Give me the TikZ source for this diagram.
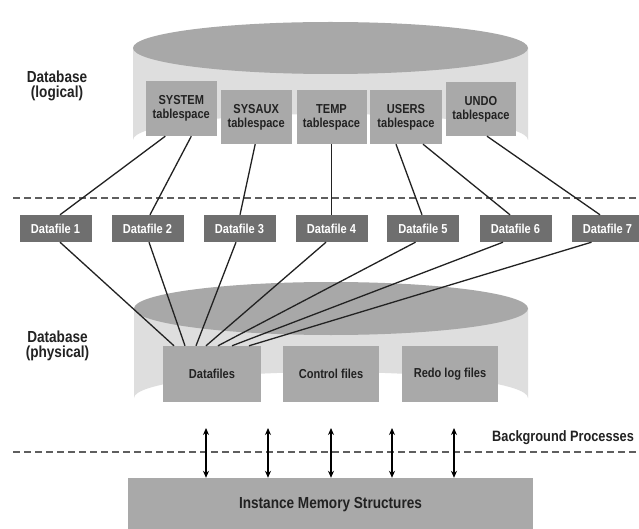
\documentclass[tikz,border=0pt]{standalone}
\usepackage{fontspec}
\setmainfont{Liberation Sans}[FakeStretch=0.85]
\usetikzlibrary{arrows.meta}
\definecolor{bodygray}{HTML}{DEDEDE}
\definecolor{topgray}{HTML}{A8A8A8}
\definecolor{boxgray}{HTML}{A9A9A9}
\definecolor{filegray}{HTML}{6F6F6F}
\definecolor{ink}{HTML}{222222}
\definecolor{dashgray}{HTML}{5E5E5E}
\tikzset{
  tsbox/.style={fill=boxgray, inner sep=0pt, minimum width=71pt, minimum height=54pt,
    align=center, font=\fontsize{13}{14}\selectfont\bfseries, text=ink},
  filebox/.style={fill=filegray, inner sep=0pt, minimum width=72pt, minimum height=27pt,
    font=\fontsize{13}{14}\selectfont\bfseries, text=white},
  storebox/.style={fill=boxgray, inner sep=0pt, minimum width=96pt, minimum height=56pt,
    font=\fontsize{13}{14}\selectfont\bfseries, text=ink},
  sidelabel/.style={align=center, font=\fontsize{16}{15}\selectfont\bfseries, text=ink},
  link/.style={draw=ink, line width=1.3pt},
  divider/.style={draw=dashgray, line width=2pt, dash pattern=on 7pt off 4pt},
  proc/.style={draw=black, line width=1.1pt, {Stealth[length=7pt,width=6pt]}-{Stealth[length=7pt,width=6pt]}}
}
\begin{document}
\begin{tikzpicture}[x=1pt, y=-1pt]
\useasboundingbox (0,0) rectangle (639,529);
\clip (0,0) rectangle (639,529);
\fill[white] (0,0) rectangle (639,529);

% logical database cylinder
\fill[bodygray] (133,48) -- (133,140) arc[start angle=180, end angle=360, x radius=197.5pt, y radius=-26pt] -- (528,48) -- cycle;
\fill[topgray] (330.5,48) ellipse [x radius=197.5pt, y radius=26pt];

% physical database cylinder
\fill[bodygray] (134,308.5) -- (134,398) arc[start angle=180, end angle=360, x radius=197pt, y radius=-26pt] -- (528,308.5) -- cycle;
\fill[topgray] (331,308.5) ellipse [x radius=197pt, y radius=26.5pt];

% dashed dividers
\draw[divider] (13,198) -- (639,198);
\draw[divider] (13,452) -- (639,452);

% side labels
\node[sidelabel] (lbllog) at (57,86) {Database\\(logical)};
\node[sidelabel] (lblphys) at (57.5,346) {Database\\(physical)};
\node[anchor=west, inner sep=0pt, font=\fontsize{15}{16}\selectfont\bfseries, text=ink] (bgp) at (492,437.5) {Background Processes};

% tablespaces
\node[tsbox, minimum width=71.5pt, minimum height=55pt] (sys) at (181.3,108.5) {SYSTEM\\tablespace};
\node[tsbox] (sysaux) at (256.2,117) {SYSAUX\\tablespace};
\node[tsbox, minimum width=70pt] (temp) at (331.5,117) {TEMP\\tablespace};
\node[tsbox, minimum width=71.5pt] (users) at (406,117) {USERS\\tablespace};
\node[tsbox, minimum width=70pt] (undo) at (481,109) {UNDO\\tablespace};

% datafiles
\node[filebox] (df1) at (55.5,228.5) {Datafile 1};
\node[filebox] (df2) at (147.5,228.5) {Datafile 2};
\node[filebox] (df3) at (239.5,228.5) {Datafile 3};
\node[filebox] (df4) at (331.5,228.5) {Datafile 4};
\node[filebox] (df5) at (423,228.5) {Datafile 5};
\node[filebox] (df6) at (515.5,228.5) {Datafile 6};
\node[filebox] (df7) at (607.5,228.5) {Datafile 7};

% physical files
\node[storebox, minimum width=98pt] (dfs) at (212,374) {Datafiles};
\node[storebox] (ctl) at (331,374) {Control files};
\node[storebox] (redo) at (450,374) {Redo log files};

% instance memory
\node[fill=boxgray, inner sep=0pt, minimum width=405pt, minimum height=53pt,
  font=\fontsize{16}{16}\selectfont\bfseries, text=ink] (inst) at (330.5,504.5) {Instance Memory Structures};

% tablespace to datafile links
\draw[link] ([xshift=-16pt]sys.south) -- ([xshift=4.5pt]df1.north);
\draw[link] ([xshift=10pt]sys.south) -- ([xshift=2.5pt]df2.north);
\draw[link] ([xshift=-1pt]sysaux.south) -- ([xshift=0.5pt]df3.north);
\draw[link] (temp.south) -- (df4.north);
\draw[link] ([xshift=-10pt]users.south) -- ([xshift=-1pt]df5.north);
\draw[link] ([xshift=17pt]users.south) -- ([xshift=-5.5pt]df6.north);
\draw[link] ([xshift=6pt]undo.south) -- ([xshift=-7.5pt]df7.north);

% datafile to physical datafiles links
\draw[link] ([xshift=4.5pt]df1.south) -- ([xshift=-38pt]dfs.north);
\draw[link] ([xshift=1.5pt]df2.south) -- ([xshift=-27pt]dfs.north);
\draw[link] ([xshift=-3.5pt]df3.south) -- ([xshift=-16pt]dfs.north);
\draw[link] ([xshift=-5.5pt]df4.south) -- ([xshift=-6pt]dfs.north);
\draw[link] ([xshift=-7.5pt]df5.south) -- ([xshift=6pt]dfs.north);
\draw[link] ([xshift=-12.5pt]df6.south) -- ([xshift=20pt]dfs.north);
\draw[link] ([xshift=-16pt]df7.south) -- ([xshift=37pt]dfs.north);

% background process arrows
\foreach \i/\px in {1/206, 2/268, 3/331, 4/392, 5/454} {
  \coordinate (bp\i) at (\px,428);
  \draw[proc] (bp\i) -- (bp\i |- inst.north);
}
\end{tikzpicture}
\end{document}
